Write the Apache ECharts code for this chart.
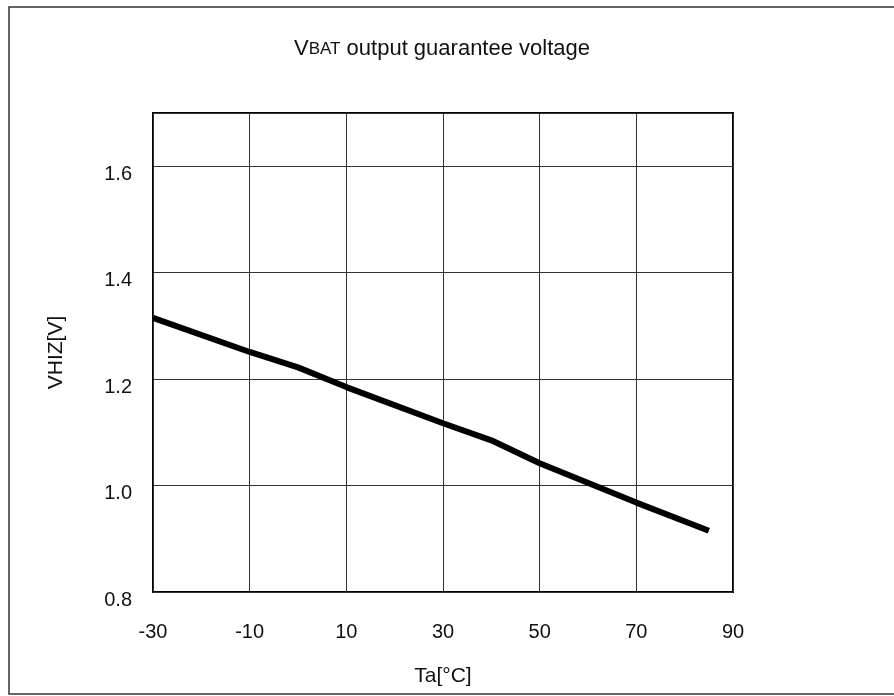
<!DOCTYPE html>
<html>
<head>
<meta charset="utf-8">
<script src="https://cdn.jsdelivr.net/npm/echarts@6/dist/echarts.min.js"></script>
<style>
  html, body { margin: 0; padding: 0; background: #fff; }
  #chart { width: 894px; height: 696px; }
</style>
</head>
<body>
<div id="chart"></div>
<script>
// Temperature (°C) and guaranteed output voltage (V)
const temperatures = [-30, -10, 0, 10, 30, 40, 50, 70, 85];
const voltages = [1.315, 1.251, 1.222, 1.185, 1.117, 1.085, 1.042, 0.968, 0.915];
const xTicks = [-30, -10, 10, 30, 50, 70, 90];
const yTicks = [0.8, 1.0, 1.2, 1.4, 1.6];

const FONT = '"Liberation Sans", Arial, sans-serif';
const points = temperatures.map((t, i) => [t, voltages[i]]);

const chart = echarts.init(document.getElementById('chart'), null, { renderer: 'canvas' });
chart.setOption({
  backgroundColor: '#fff',
  animation: false,
  graphic: [{
    type: 'rect',
    shape: { x: 9, y: 7, width: 900, height: 687 },
    style: { fill: 'none', stroke: '#333', lineWidth: 1.5 },
    z: -1
  }],
  title: {
    text: '{v|V}{s|BAT}{v| output guarantee voltage}',
    left: 437,
    textAlign: 'center',
    top: 33,
    textStyle: {
      fontWeight: 'normal',
      rich: {
        v: { fontFamily: FONT, fontSize: 22, fontWeight: 'normal', color: '#111' },
        s: { fontFamily: FONT, fontSize: 17, fontWeight: 'normal', color: '#111' }
      }
    }
  },
  grid: { left: 153, right: 161, top: 113, bottom: 104, show: true, borderColor: '#000', borderWidth: 2 },
  xAxis: {
    type: 'value', min: -30, max: 90, interval: 20,
    name: 'Ta[°C]', nameLocation: 'middle', nameGap: 74,
    nameTextStyle: { fontFamily: FONT, fontSize: 21, color: '#111' },
    axisLine: { show: false }, axisTick: { show: false },
    axisLabel: {
      margin: 30, fontFamily: FONT, fontSize: 20, color: '#111',
      formatter: v => xTicks.includes(v) ? String(v) : ''
    },
    splitLine: { show: true, lineStyle: { color: '#333', width: 1 } }
  },
  yAxis: {
    type: 'value', min: 0.8, max: 1.7, interval: 0.2,
    name: 'VHIZ[V]', nameLocation: 'middle', nameGap: 86, nameRotate: 90,
    nameTextStyle: { fontFamily: FONT, fontSize: 21, color: '#111' },
    axisLine: { show: false }, axisTick: { show: false },
    axisLabel: {
      margin: 21, fontFamily: FONT, fontSize: 20, color: '#111',
      verticalAlign: 'top', lineHeight: 16,
      showMaxLabel: false,
      formatter: v => {
        const r = Math.round(v * 10) / 10;
        return yTicks.some(t => Math.abs(t - r) < 1e-6) ? r.toFixed(1) : '';
      }
    },
    splitLine: { show: true, lineStyle: { color: '#333', width: 1 } }
  },
  series: [{
    type: 'line',
    data: points,
    showSymbol: false,
    lineStyle: { color: '#000', width: 6 },
    z: 5
  }]
});
</script>
</body>
</html>
